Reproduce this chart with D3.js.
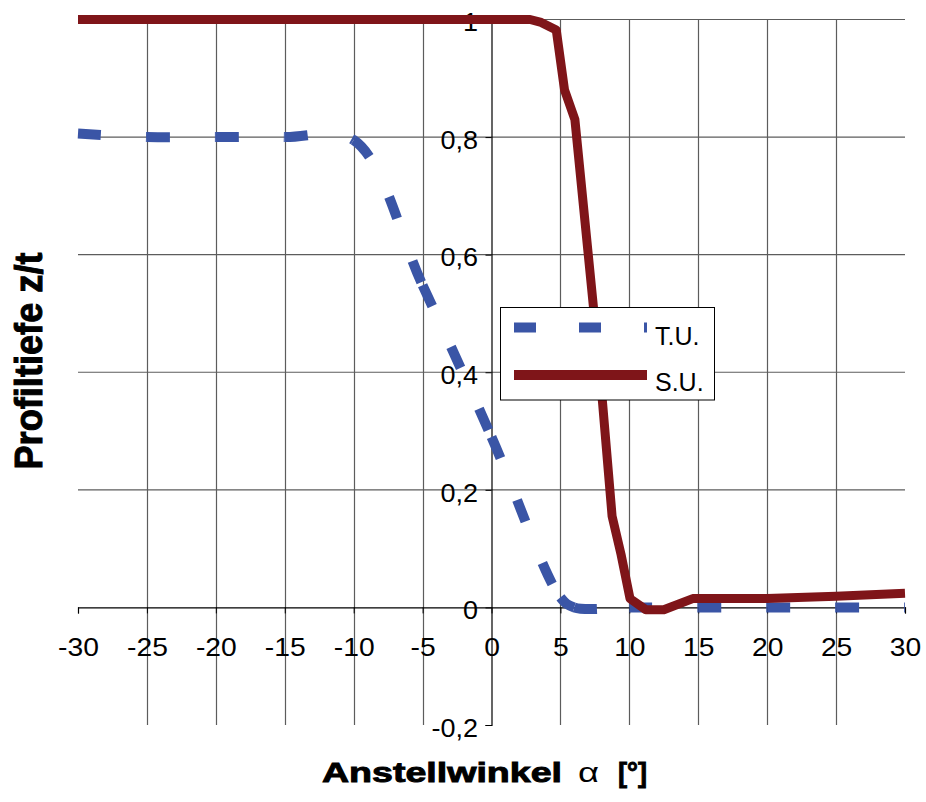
<!DOCTYPE html>
<html>
<head>
<meta charset="utf-8">
<script src="https://cdn.jsdelivr.net/npm/d3@7"></script>
<style>
  html, body { margin: 0; padding: 0; background: #fff; }
  svg { display: block; }
</style>
</head>
<body>
<svg id="chart" width="926" height="802"></svg>
<script>
// Angle of attack ticks and profile depth ticks
const xTicks = [-30, -25, -20, -15, -10, -5, 0, 5, 10, 15, 20, 25, 30];
const yTicks = [-0.2, 0, 0.2, 0.4, 0.6, 0.8, 1];
const yTickLabels = ["-0,2", "0", "0,2", "0,4", "0,6", "0,8", "1"];

// T.U. series (smoothed line)
const tuAngle = [-30, -25, -20, -15, -10, -5, 0, 5, 6, 10, 15, 20, 25, 30];
const tuDepth = [0.806, 0.8, 0.8, 0.8, 0.795, 0.548, 0.29, 0.017, 0.0, 0.0, 0.0, 0.0, 0.0, 0.0];

// S.U. series
const suAngle = [-30, -25, -20, -15, -10, -5, 0, 2.8, 3.6, 4.7, 5.3, 6.05, 7.4, 8.05, 8.75, 9.4, 10.05, 11.2, 12.5, 14.6, 20, 25, 30];
const suDepth = [1, 1, 1, 1, 1, 1, 1, 1, 0.995, 0.982, 0.88, 0.83, 0.51, 0.35, 0.155, 0.09, 0.015, -0.004, -0.004, 0.015, 0.015, 0.019, 0.024];

const seriesNames = ["T.U.", "S.U."];
const blue = "#3A55A6";
const red = "#7F1519";
const fontFam = "'Liberation Sans', Arial, sans-serif";

const svg = d3.select("#chart");
svg.append("rect").attr("width", 926).attr("height", 802).attr("fill", "#fff");

const x = d3.scaleLinear().domain([-30, 30]).range([78, 905]);
const y = d3.scaleLinear().domain([-0.2, 1]).range([725, 19.5]);

// Grid
const grid = svg.append("g");
grid.selectAll("line.v")
  .data(xTicks.filter(v => v !== 0 && Math.abs(v) !== 30))
  .join("line")
  .attr("x1", d => Math.round(x(d)) + 0.5).attr("x2", d => Math.round(x(d)) + 0.5)
  .attr("y1", y(1)).attr("y2", y(-0.2))
  .attr("stroke", "#5c5c5c").attr("stroke-width", 1.2);
grid.selectAll("line.h")
  .data(yTicks.filter(v => v > 0))
  .join("line")
  .attr("x1", x(-30)).attr("x2", x(30))
  .attr("y1", d => y(d)).attr("y2", d => y(d))
  .attr("stroke", "#5c5c5c").attr("stroke-width", 1.2);

// Stretch tick text slightly wider
function widen(sel, f) {
  sel.each(function () {
    const len = this.getComputedTextLength();
    d3.select(this).attr("textLength", len * f).attr("lengthAdjust", "spacingAndGlyphs");
  });
}

// X axis along depth 0
const gx = svg.append("g")
  .attr("transform", `translate(0,${y(0)})`)
  .call(d3.axisBottom(x).tickValues(xTicks).tickSize(6).tickSizeOuter(6)
    .tickPadding(25).tickFormat(d => String(d)));
gx.select(".domain").attr("stroke", "#000").attr("stroke-width", 1.2);
gx.selectAll(".tick line").attr("stroke", "#000");
gx.selectAll(".tick text")
  .attr("font-family", fontFam).attr("font-size", 25).attr("fill", "#000");
widen(gx.selectAll(".tick text"), 1.13);

// Y axis along angle 0
const gy = svg.append("g")
  .attr("transform", `translate(${x(0)},0)`)
  .call(d3.axisLeft(y).tickValues(yTicks).tickSize(6).tickSizeOuter(6)
    .tickPadding(7.5).tickFormat((d, i) => yTickLabels[i]));
gy.select(".domain").attr("stroke", "#000").attr("stroke-width", 1.2);
gy.selectAll(".tick line").attr("stroke", "#000");
gy.selectAll(".tick text")
  .attr("font-family", fontFam).attr("font-size", 25).attr("fill", "#000")
  .attr("dy", "0.45em");
widen(gy.selectAll(".tick text"), 1.08);

// Series
const tuData = tuAngle.map((a, i) => [a, tuDepth[i]]);
const suData = suAngle.map((a, i) => [a, suDepth[i]]);

// T.U.: smoothed curve, dash pattern restarts at every data point
const smooth = d3.line().x(d => x(d[0])).y(d => y(d[1])).curve(d3.curveCatmullRom.alpha(0.5));
const tuPathStr = smooth(tuData);
const cmds = tuPathStr.match(/[MLC][^MLC]*/g);
let cur = null;
const segs = [];
cmds.forEach(c => {
  const nums = c.slice(1).split(/[ ,]+/).filter(s => s.length).map(Number);
  if (c[0] !== "M" && cur) segs.push(`M${cur[0]},${cur[1]}${c}`);
  cur = [nums[nums.length - 2], nums[nums.length - 1]];
});
svg.append("g").selectAll("path")
  .data(segs)
  .join("path")
  .attr("d", d => d)
  .attr("fill", "none").attr("stroke", blue).attr("stroke-width", 10)
  .attr("stroke-dasharray", "23,45");

const line = d3.line().x(d => x(d[0])).y(d => y(d[1]));
svg.append("path")
  .attr("d", line(suData))
  .attr("fill", "none").attr("stroke", red).attr("stroke-width", 9)
  .attr("stroke-linejoin", "round");

// Legend
const lg = svg.append("g");
lg.append("rect")
  .attr("x", 500.5).attr("y", 307.5).attr("width", 214).attr("height", 92.5)
  .attr("fill", "#fff").attr("stroke", "#000").attr("stroke-width", 1);
const legendRows = [
  { name: seriesNames[0], color: blue, dash: "22,43", ly: 327.5, ty: 345 },
  { name: seriesNames[1], color: red, dash: null, ly: 375, ty: 391 }
];
legendRows.forEach(r => {
  lg.append("line")
    .attr("x1", 514).attr("x2", 647).attr("y1", r.ly).attr("y2", r.ly)
    .attr("stroke", r.color).attr("stroke-width", 10)
    .attr("stroke-dasharray", r.dash);
  lg.append("text")
    .attr("x", 655).attr("y", r.ty)
    .attr("font-family", fontFam).attr("font-size", 25).attr("fill", "#000")
    .text(r.name);
});

// Axis titles
const title = svg.append("g")
  .attr("font-family", fontFam).attr("fill", "#000");
title.append("text")
  .attr("x", 322).attr("y", 782)
  .attr("font-size", 28).attr("font-weight", "bold")
  .attr("stroke", "#000").attr("stroke-width", 0.9)
  .attr("textLength", 240).attr("lengthAdjust", "spacingAndGlyphs")
  .text("Anstellwinkel");
title.append("text")
  .attr("x", 578).attr("y", 782)
  .attr("font-size", 28)
  .attr("textLength", 21).attr("lengthAdjust", "spacingAndGlyphs")
  .text("α");
title.append("text")
  .attr("x", 618).attr("y", 782)
  .attr("font-size", 28).attr("font-weight", "bold")
  .attr("stroke", "#000").attr("stroke-width", 0.9)
  .attr("textLength", 29).attr("lengthAdjust", "spacingAndGlyphs")
  .text("[°]");

title.append("text")
  .attr("transform", "translate(42,361) rotate(-90)")
  .attr("text-anchor", "middle")
  .attr("font-size", 38).attr("font-weight", "bold")
  .attr("stroke", "#000").attr("stroke-width", 1)
  .attr("textLength", 217).attr("lengthAdjust", "spacingAndGlyphs")
  .text("Profiltiefe z/t");
</script>
</body>
</html>
